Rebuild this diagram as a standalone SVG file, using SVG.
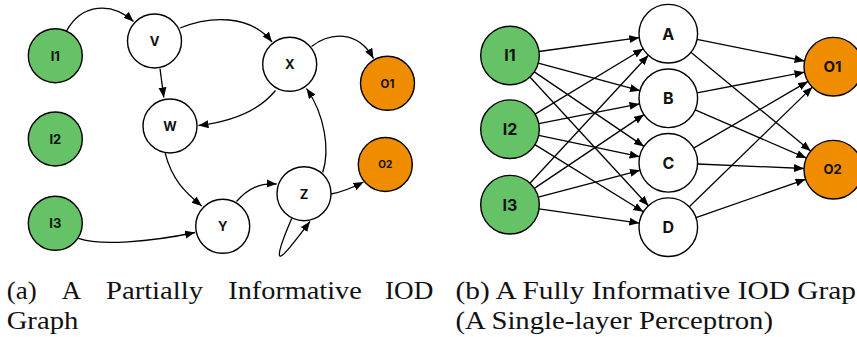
<svg xmlns="http://www.w3.org/2000/svg" width="857" height="337" viewBox="0 0 857 337">
<defs>
<marker id="ah" markerUnits="userSpaceOnUse" markerWidth="12" markerHeight="10" refX="10" refY="4" orient="auto">
<path d="M0,0 L10,4 L0,8 Z" fill="#000"/>
</marker>
<style>
.n{stroke:#000;stroke-width:1.4}
.in{fill:#66c266}
.out{fill:#f08c00}
.hid{fill:#fff}
.lb{font-family:Inter,"Liberation Sans",sans-serif;font-weight:700;text-anchor:middle;fill:#111}
.e path,.e line{fill:none;stroke:#000;stroke-width:1.3;marker-end:url(#ah)}
.cap{font-family:"Liberation Serif",serif;font-size:26px;fill:#111}
</style>
</defs>
<rect width="857" height="337" fill="#fff"/>

<!-- (a) connectors -->
<g id="edges-a" class="e">
<path d="M66.5,31 C82,3 112,2 133.5,21.5"/>
<path d="M180,28 C210,16 250,14 272,42"/>
<path d="M160,68.5 L163.8,97.5"/>
<path d="M275.5,90.5 C258,112 228,122 198.5,125.5"/>
<path d="M311.5,46.5 C330,32 358,30 373.5,58.5"/>
<path d="M165,152.7 C172,180 185,192 201.7,206"/>
<path d="M78.3,238.3 C100,246 150,242 195,232.5"/>
<path d="M236.5,201.5 C248,188 260,183 276.7,184"/>
<path d="M322.7,172.5 C330,150 325,115 306.5,88.5"/>
<path d="M331,194 C342,192 352,188 363.5,182"/>
<path d="M291.7,218.5 C286,232 278,250 279.5,255.5 C281,260 296,240 310,221.5"/>
</g>

<!-- (a) nodes -->
<g id="a-I1"><circle class="n in" cx="55.3" cy="55.7" r="27"/><text class="lb" x="55.3" y="60.5" font-size="13">I1</text></g>
<g id="a-I2"><circle class="n in" cx="55.3" cy="139" r="27"/><text class="lb" x="55.3" y="143.8" font-size="13">I2</text></g>
<g id="a-I3"><circle class="n in" cx="55.3" cy="223.3" r="27"/><text class="lb" x="55.3" y="228.1" font-size="13">I3</text></g>
<g id="a-V"><circle class="n hid" cx="154.5" cy="41" r="27"/><text class="lb" x="154.5" y="45.8" font-size="13">V</text></g>
<g id="a-W"><circle class="n hid" cx="170" cy="126" r="27"/><text class="lb" x="170" y="130.8" font-size="13">W</text></g>
<g id="a-X"><circle class="n hid" cx="289.7" cy="64.3" r="27"/><text class="lb" x="289.7" y="69.1" font-size="13">X</text></g>
<g id="a-Y"><circle class="n hid" cx="222.7" cy="226.3" r="27"/><text class="lb" x="222.7" y="231.1" font-size="13">Y</text></g>
<g id="a-Z"><circle class="n hid" cx="304" cy="193.7" r="27"/><text class="lb" x="304" y="198.5" font-size="13">Z</text></g>
<g id="a-O1"><circle class="n out" cx="387.5" cy="83.3" r="27"/><text class="lb" x="387.5" y="87.5" font-size="11.5">O1</text></g>
<g id="a-O2"><circle class="n out" cx="385.3" cy="164.5" r="27"/><text class="lb" x="385.3" y="168.2" font-size="10">O2</text></g>

<!-- (b) connectors -->
<g id="edges-b" class="e">
<line x1="539.0" y1="51.5" x2="639.3" y2="37.7"/>
<line x1="538.3" y1="63.1" x2="640.0" y2="90.7"/>
<line x1="534.3" y1="71.9" x2="644.0" y2="146.4"/>
<line x1="529.9" y1="77.0" x2="648.4" y2="205.7"/>
<line x1="535.1" y1="114.1" x2="643.2" y2="48.8"/>
<line x1="538.8" y1="123.6" x2="639.5" y2="103.9"/>
<line x1="538.7" y1="135.3" x2="639.6" y2="156.7"/>
<line x1="534.9" y1="144.6" x2="643.4" y2="211.8"/>
<line x1="529.9" y1="183.2" x2="648.4" y2="55.2"/>
<line x1="534.3" y1="188.4" x2="644.0" y2="114.6"/>
<line x1="538.3" y1="197.2" x2="640.0" y2="170.3"/>
<line x1="539.0" y1="208.8" x2="639.3" y2="223.1"/>
<line x1="697.0" y1="39.4" x2="804.6" y2="61.0"/>
<line x1="690.9" y1="52.3" x2="810.7" y2="151.1"/>
<line x1="697.1" y1="92.8" x2="804.5" y2="72.2"/>
<line x1="695.2" y1="109.9" x2="806.4" y2="158.1"/>
<line x1="693.6" y1="148.1" x2="808.0" y2="81.4"/>
<line x1="697.6" y1="164.0" x2="804.0" y2="168.5"/>
<line x1="689.3" y1="206.8" x2="812.3" y2="87.1"/>
<line x1="696.0" y1="217.6" x2="805.6" y2="179.3"/>
</g>

<!-- (b) nodes -->
<g id="b-I1"><circle class="n in" cx="510" cy="55.5" r="29.3"/><text class="lb" x="510" y="61.3" font-size="16">I1</text></g>
<g id="b-I2"><circle class="n in" cx="510" cy="129.2" r="29.3"/><text class="lb" x="510" y="135" font-size="16">I2</text></g>
<g id="b-I3"><circle class="n in" cx="510" cy="204.7" r="29.3"/><text class="lb" x="510" y="210.5" font-size="16">I3</text></g>
<g id="b-A"><circle class="n hid" cx="668.3" cy="33.7" r="29.3"/><text class="lb" x="668.3" y="39.5" font-size="16">A</text></g>
<g id="b-B"><circle class="n hid" cx="668.3" cy="98.3" r="29.3"/><text class="lb" x="668.3" y="104.1" font-size="16">B</text></g>
<g id="b-C"><circle class="n hid" cx="668.3" cy="162.8" r="29.3"/><text class="lb" x="668.3" y="168.6" font-size="16">C</text></g>
<g id="b-D"><circle class="n hid" cx="668.3" cy="227.2" r="29.3"/><text class="lb" x="668.3" y="233" font-size="16">D</text></g>
<g id="b-O1"><circle class="n out" cx="833.3" cy="66.7" r="29.3"/><text class="lb" x="832.5" y="72.2" font-size="15">O1</text></g>
<g id="b-O2"><circle class="n out" cx="833.3" cy="169.7" r="29.3"/><text class="lb" x="832.5" y="174.4" font-size="13">O2</text></g>

<!-- captions -->
<g id="captions">
<text class="cap" x="6.7" y="299" textLength="30" lengthAdjust="spacingAndGlyphs">(a)</text>
<text class="cap" x="61.7" y="299" textLength="19.3" lengthAdjust="spacingAndGlyphs">A</text>
<text class="cap" x="106" y="299" textLength="97" lengthAdjust="spacingAndGlyphs">Partially</text>
<text class="cap" x="228.3" y="299" textLength="133.4" lengthAdjust="spacingAndGlyphs">Informative</text>
<text class="cap" x="385" y="299" textLength="48.3" lengthAdjust="spacingAndGlyphs">IOD</text>
<text class="cap" x="6.7" y="329" textLength="71.6" lengthAdjust="spacingAndGlyphs">Graph</text>
<text class="cap" x="455.5" y="299" textLength="400.5" lengthAdjust="spacingAndGlyphs">(b) A Fully Informative IOD Grap</text>
<text class="cap" x="455.5" y="329" textLength="317.5" lengthAdjust="spacingAndGlyphs">(A Single-layer Perceptron)</text>
</g>
</svg>
